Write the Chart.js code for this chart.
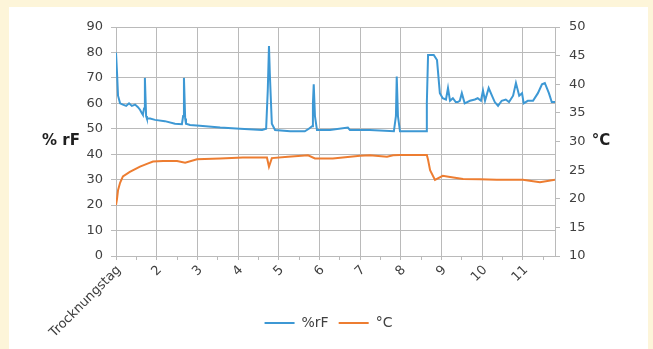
<!DOCTYPE html>
<html>
<head>
<meta charset="utf-8">
<script src="https://cdn.jsdelivr.net/npm/chart.js@4"></script>
<style>
  html, body { margin: 0; padding: 0; background: #fdf5d9; }
  #panel { position: absolute; left: 9px; top: 7px; width: 639px; height: 342px; background: #fff; }
  canvas { display: block; }
</style>
</head>
<body>
<div id="panel"><canvas id="chart" width="639" height="342"></canvas></div>
<script>
// Trocknungstag (day) positions and readings
const rhDays = [
  1.00, 1.025, 1.05, 1.10, 1.17, 1.25, 1.32, 1.39, 1.47, 1.54,
  1.59, 1.64, 1.66, 1.69, 1.71, 1.74, 1.76, 1.84, 1.96, 2.20,
  2.45, 2.62, 2.65, 2.67, 2.70, 2.72, 2.82, 3.06, 3.56, 4.05,
  4.59, 4.69, 4.73, 4.76, 4.78, 4.83, 4.91, 5.28, 5.64, 5.74,
  5.82, 5.84, 5.86, 5.89, 5.94, 6.26, 6.70, 6.75, 7.24, 7.83,
  7.88, 7.90, 7.93, 7.98, 8.22, 8.62, 8.64, 8.67, 8.81, 8.89,
  8.96, 9.03, 9.11, 9.16, 9.21, 9.28, 9.35, 9.40, 9.45, 9.50,
  9.57, 9.70, 9.82, 9.89, 9.97, 10.02, 10.07, 10.16, 10.24, 10.31,
  10.39, 10.48, 10.58, 10.66, 10.76, 10.83, 10.91, 10.98, 11.02, 11.12,
  11.25, 11.37, 11.47, 11.54, 11.64, 11.71, 11.79
];
const rhValues = [
  80, 72, 63, 60, 59.5, 59, 60, 59, 59.5, 58.5,
  57.5, 56, 55.5, 58, 70, 55, 54, 54, 53.5, 53,
  52, 51.8, 55, 70, 54, 52, 51.5, 51.2, 50.5, 50,
  49.5, 50, 65, 82.5, 72, 52, 49.5, 49, 49, 50,
  51, 60, 67.5, 55, 49.5, 49.5, 50.5, 49.5, 49.5, 49,
  55, 70.5, 55, 49, 49, 49, 60, 79, 79, 77,
  64, 62, 61.5, 66, 61, 62, 60.5, 60.5, 61, 64,
  60, 61, 61.5, 62, 61, 65, 61, 66, 63, 60.5,
  59, 61, 61.5, 60.5, 63, 68, 63, 64, 60, 61,
  61, 64, 67.5, 68, 64, 60.5, 60.5
];

const tempDays = [
  1.00, 1.025, 1.05, 1.10, 1.17, 1.34, 1.59, 1.76, 1.91, 2.16,
  2.50, 2.70, 2.99, 3.56, 4.12, 4.71, 4.76, 4.83, 5.23, 5.72,
  5.89, 6.33, 7.00, 7.24, 7.66, 7.81, 7.98, 8.64, 8.67, 8.72,
  8.84, 9.03, 9.21, 9.53, 9.94, 10.36, 11.00, 11.42, 11.79
];
const tempValues = [
  18.9, 20, 21.5, 22.8, 23.9, 24.7, 25.6, 26.1, 26.5, 26.6,
  26.6, 26.3, 26.9, 27.05, 27.2, 27.2, 25.6, 27.1, 27.35, 27.6,
  27.05, 27.05, 27.5, 27.6, 27.35, 27.6, 27.65, 27.65, 26.8, 25.0,
  23.3, 24.0, 23.8, 23.45, 23.4, 23.3, 23.3, 22.9, 23.3
];

const xTickLabels = ['Trocknungstag', '2', '3', '4', '5', '6', '7', '8', '9', '10', '11'];
const seriesNames = ['%rF', '°C'];
const leftTitle = '% rF';
const rightTitle = '°C';

const gridColor = '#bababa';
const textColor = '#404040';
const fontFamily = '"DejaVu Sans", sans-serif';

Chart.defaults.font.family = fontFamily;

// horizontal axis titles beside the y axes
const sideTitles = {
  id: 'sideTitles',
  afterDraw(chart) {
    const { ctx, chartArea } = chart;
    const midY = (chartArea.top + chartArea.bottom) / 2;
    ctx.save();
    ctx.font = 'bold 15px ' + fontFamily;
    ctx.fillStyle = '#1f1f1f';
    ctx.textAlign = 'center';
    ctx.textBaseline = 'middle';
    ctx.fillText(leftTitle, 52, midY);
    ctx.fillText(rightTitle, 592, midY);
    ctx.restore();
  }
};

// slanted day labels; drawn here because the first one runs down past the legend line
const dayLabels = {
  id: 'dayLabels',
  afterDraw(chart) {
    const { ctx } = chart;
    const xs = chart.scales.x;
    ctx.save();
    ctx.font = '13px ' + fontFamily;
    ctx.fillStyle = textColor;
    ctx.textAlign = 'right';
    ctx.textBaseline = 'middle';
    xTickLabels.forEach((label, i) => {
      const px = xs.getPixelForValue(i + 1);
      ctx.save();
      ctx.translate(px + 3, xs.top + 12);
      ctx.rotate(-Math.PI / 4);
      ctx.fillText(label, 0, 0);
      ctx.restore();
    });
    ctx.restore();
  }
};

const ctx = document.getElementById('chart').getContext('2d');
new Chart(ctx, {
  type: 'line',
  data: {
    datasets: [
      {
        label: seriesNames[0],
        data: rhDays.map((d, i) => ({ x: d, y: rhValues[i] })),
        borderColor: '#3d98d4',
        backgroundColor: '#3d98d4',
        borderWidth: 2,
        pointRadius: 0,
        tension: 0,
        yAxisID: 'y'
      },
      {
        label: seriesNames[1],
        data: tempDays.map((d, i) => ({ x: d, y: tempValues[i] })),
        borderColor: '#ed7d31',
        backgroundColor: '#ed7d31',
        borderWidth: 2,
        pointRadius: 0,
        tension: 0,
        yAxisID: 'y1'
      }
    ]
  },
  options: {
    responsive: false,
    animation: false,
    layout: { padding: { top: 20, bottom: 9, left: 0, right: 0 } },
    plugins: {
      legend: {
        position: 'bottom',
        labels: {
          usePointStyle: true,
          pointStyle: 'line',
          pointStyleWidth: 30,
          padding: 10,
          color: textColor,
          font: { size: 14 }
        }
      },
      tooltip: { enabled: false }
    },
    scales: {
      x: {
        type: 'linear',
        min: 1,
        max: 11.79,
        afterFit: (scale) => { scale.height = 50; },
        border: { color: gridColor },
        grid: {
          color: (c) => (c.tick && Number.isInteger(c.tick.value)) ? gridColor : 'rgba(0,0,0,0)',
          tickColor: gridColor,
          tickLength: 4
        },
        ticks: {
          stepSize: 0.5,
          autoSkip: false,
          includeBounds: false,
          display: false
        }
      },
      y: {
        position: 'left',
        min: 0,
        max: 90,
        afterFit: (scale) => { scale.width = 107; },
        border: { color: gridColor },
        grid: { color: gridColor, tickLength: 5 },
        ticks: { stepSize: 10, padding: 8, color: textColor, font: { size: 13 } }
      },
      y1: {
        position: 'right',
        min: 10,
        max: 50,
        afterFit: (scale) => { scale.width = 93; },
        border: { color: gridColor },
        grid: { drawOnChartArea: false, color: gridColor, tickLength: 5 },
        ticks: { stepSize: 5, padding: 9, color: textColor, font: { size: 13 } }
      }
    }
  },
  plugins: [sideTitles, dayLabels]
});
</script>
</body>
</html>
